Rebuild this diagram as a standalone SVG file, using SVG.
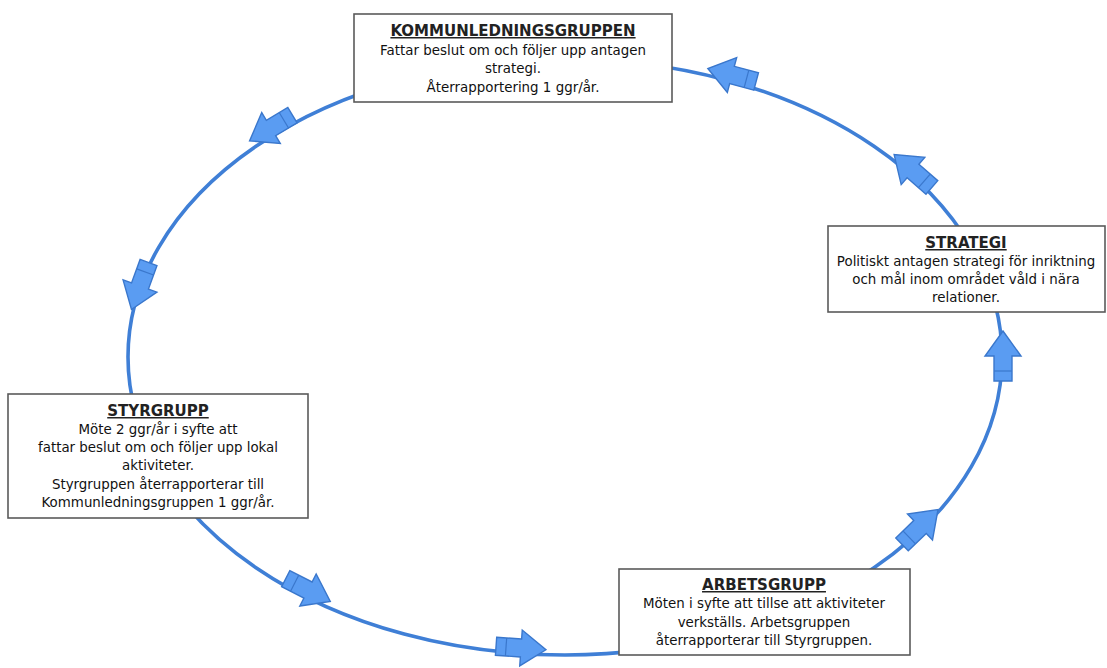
<svg xmlns="http://www.w3.org/2000/svg" width="1107" height="668" viewBox="0 0 1107 668">
<style>
.box{fill:#fff;stroke:#5a5a5a;stroke-width:1.6}
.t{font-family:"DejaVu Sans",Verdana,sans-serif;font-size:13.4px;fill:#111;text-anchor:middle}
.h{font-family:"DejaVu Sans",Verdana,sans-serif;font-size:15px;font-weight:bold;fill:#222;text-anchor:middle;text-decoration:underline}
.ring{fill:none;stroke:#3f7fd6;stroke-width:3.6}
.arr{fill:#5a9cf2;stroke:#3a77cc;stroke-width:1.4;stroke-linejoin:miter}
.tick{stroke:#3a77cc;stroke-width:1.2}
</style>
<defs>
<g id="ba">
<polygon class="arr" points="-25,-9 0,-9 0,-18 25,0 0,18 0,9 -25,9"/>
<line class="tick" x1="-15" y1="-9" x2="-15" y2="9"/>
</g>
</defs>
<rect width="1107" height="668" fill="#fff"/>
<g id="connectors">
<ellipse class="ring" cx="565" cy="357" rx="437" ry="298"/>
<use href="#ba" transform="translate(732,75) rotate(195)"/>
<use href="#ba" transform="translate(271,128) rotate(149)"/>
<use href="#ba" transform="translate(140,286) rotate(110)"/>
<use href="#ba" transform="translate(308,590) rotate(27)"/>
<use href="#ba" transform="translate(521,648) rotate(4)"/>
<use href="#ba" transform="translate(920,527) rotate(-44)"/>
<use href="#ba" transform="translate(1003,356) rotate(-90)"/>
<use href="#ba" transform="translate(913,171) rotate(221)"/>
</g>
<g id="kommunledningsgruppen">
<rect class="box" x="354" y="14" width="318" height="88"/>
<text class="h" x="513" y="36">KOMMUNLEDNINGSGRUPPEN</text>
<text class="t" x="513" y="55">Fattar beslut om och följer upp antagen</text>
<text class="t" x="513" y="73">strategi.</text>
<text class="t" x="513" y="92">Återrapportering 1 ggr/år.</text>
</g>
<g id="strategi">
<rect class="box" x="828" y="226" width="277" height="86"/>
<text class="h" x="966" y="248">STRATEGI</text>
<text class="t" x="966" y="266">Politiskt antagen strategi för inriktning</text>
<text class="t" x="966" y="284">och mål inom området våld i nära</text>
<text class="t" x="966" y="302">relationer.</text>
</g>
<g id="styrgrupp">
<rect class="box" x="8" y="394" width="300" height="124"/>
<text class="h" x="158" y="416">STYRGRUPP</text>
<text class="t" x="158" y="434">Möte 2 ggr/år i syfte att</text>
<text class="t" x="158" y="452">fattar beslut om och följer upp lokal</text>
<text class="t" x="158" y="470">aktiviteter.</text>
<text class="t" x="158" y="489">Styrgruppen återrapporterar till</text>
<text class="t" x="158" y="507">Kommunledningsgruppen 1 ggr/år.</text>
</g>
<g id="arbetsgrupp">
<rect class="box" x="619" y="569" width="291" height="86"/>
<text class="h" x="764" y="590">ARBETSGRUPP</text>
<text class="t" x="764" y="608">Möten i syfte att tillse att aktiviteter</text>
<text class="t" x="764" y="627">verkställs. Arbetsgruppen</text>
<text class="t" x="764" y="645">återrapporterar till Styrgruppen.</text>
</g>
</svg>
